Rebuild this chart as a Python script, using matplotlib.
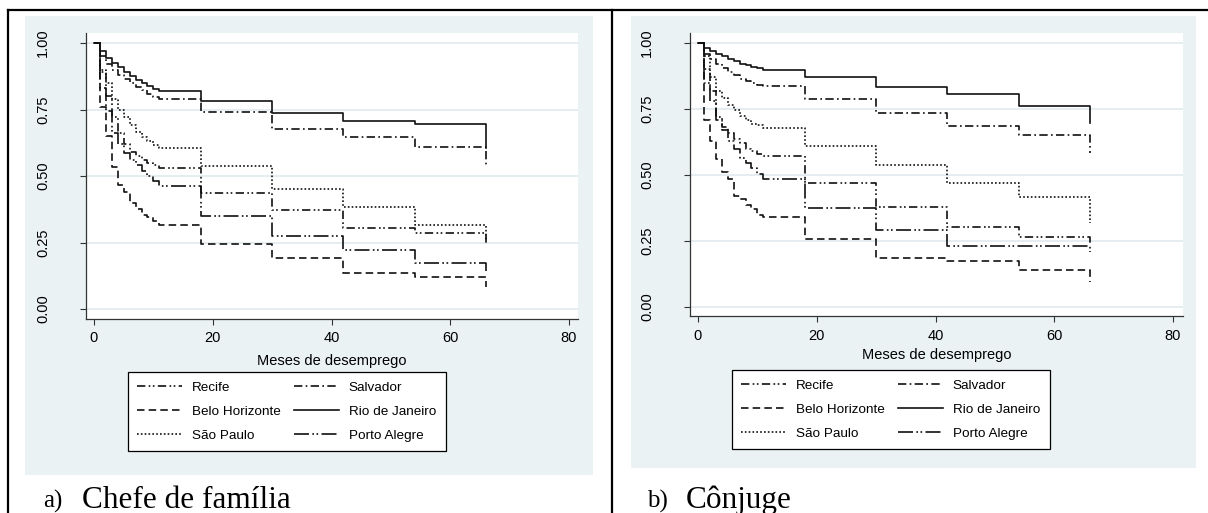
import matplotlib
matplotlib.use("Agg")
import matplotlib.pyplot as plt
from matplotlib.patches import Rectangle
from matplotlib.lines import Line2D

W, H = 1208, 513

# months (steps are monthly in the first year, then yearly)
meses = [0, 1, 2, 3, 4, 5, 6, 7, 8, 9, 10, 11, 18, 30, 42, 54, 66]

# a) Chefe de família
recife_a = [1.0, 0.89, 0.80, 0.72, 0.66, 0.62, 0.59, 0.575, 0.56, 0.55, 0.54, 0.53, 0.437, 0.372, 0.303, 0.285, 0.235]
salvador_a = [1.0, 0.95, 0.92, 0.90, 0.88, 0.865, 0.85, 0.835, 0.822, 0.808, 0.797, 0.789, 0.739, 0.677, 0.645, 0.61, 0.535]
bh_a = [1.0, 0.76, 0.65, 0.535, 0.465, 0.44, 0.40, 0.375, 0.355, 0.345, 0.33, 0.317, 0.244, 0.193, 0.137, 0.121, 0.083]
rio_a = [1.0, 0.97, 0.945, 0.925, 0.91, 0.89, 0.875, 0.86, 0.85, 0.838, 0.828, 0.818, 0.783, 0.737, 0.708, 0.695, 0.605]
sp_a = [1.0, 0.90, 0.85, 0.79, 0.75, 0.72, 0.69, 0.665, 0.645, 0.63, 0.615, 0.605, 0.538, 0.451, 0.382, 0.316, 0.255]
poa_a = [1.0, 0.83, 0.745, 0.66, 0.62, 0.585, 0.56, 0.54, 0.52, 0.50, 0.48, 0.464, 0.35, 0.276, 0.222, 0.172, 0.14]

# b) Cônjuge
recife_b = [1.0, 0.90, 0.82, 0.72, 0.68, 0.66, 0.635, 0.62, 0.60, 0.59, 0.58, 0.571, 0.471, 0.378, 0.304, 0.265, 0.235]
salvador_b = [1.0, 0.96, 0.94, 0.92, 0.905, 0.89, 0.88, 0.865, 0.857, 0.848, 0.842, 0.836, 0.788, 0.734, 0.687, 0.652, 0.583]
bh_b = [1.0, 0.71, 0.63, 0.56, 0.51, 0.485, 0.42, 0.41, 0.385, 0.37, 0.35, 0.34, 0.258, 0.187, 0.175, 0.14, 0.096]
rio_b = [1.0, 0.98, 0.97, 0.96, 0.95, 0.94, 0.93, 0.92, 0.915, 0.91, 0.905, 0.899, 0.870, 0.835, 0.806, 0.761, 0.697]
sp_b = [1.0, 0.95, 0.87, 0.82, 0.79, 0.765, 0.745, 0.725, 0.71, 0.695, 0.688, 0.678, 0.608, 0.538, 0.471, 0.418, 0.318]
poa_b = [1.0, 0.85, 0.78, 0.71, 0.67, 0.63, 0.60, 0.565, 0.545, 0.525, 0.505, 0.486, 0.374, 0.292, 0.231, 0.231, 0.21]

cidades = ["Recife", "Belo Horizonte", "São Paulo", "Salvador", "Rio de Janeiro", "Porto Alegre"]
estilos = {
    "Recife": (0, (5, 2, 1, 1.5, 1, 2)),
    "Belo Horizonte": (0, (4.5, 2.5)),
    "São Paulo": (0, (1, 1.3)),
    "Salvador": (0, (5, 2, 1, 2)),
    "Rio de Janeiro": "-",
    "Porto Alegre": (0, (9, 2, 1, 1.5, 1, 2)),
}
dados_a = {"Recife": recife_a, "Belo Horizonte": bh_a, "São Paulo": sp_a,
           "Salvador": salvador_a, "Rio de Janeiro": rio_a, "Porto Alegre": poa_a}
dados_b = {"Recife": recife_b, "Belo Horizonte": bh_b, "São Paulo": sp_b,
           "Salvador": salvador_b, "Rio de Janeiro": rio_b, "Porto Alegre": poa_b}

BG = "#eaf2f3"
GRID = "#e3ecef"
SANS = "Liberation Sans"
SERIF = "Liberation Serif"

fig = plt.figure(figsize=(W / 100, H / 100), dpi=100)


def fx(px):
    return px / W


def fy(py):
    return 1 - py / H


def panel(dados, bg_box, ax_box, ytick_px, leg_xy, letra, titulo, cap_x, lab_pad):
    # grey background of the Stata graph
    x0, y0, x1, y1 = bg_box
    fig.patches.append(Rectangle((fx(x0), fy(y1)), fx(x1 - x0), (y1 - y0) / H,
                                 transform=fig.transFigure, facecolor=BG,
                                 edgecolor="none", zorder=-10))
    l, t, r, b = ax_box
    ax = fig.add_axes([fx(l), fy(b), fx(r - l), (b - t) / H])
    ax.set_zorder(2)
    ax.set_facecolor("white")
    y_one, y_zero = ytick_px
    unit = y_zero - y_one
    ax.set_ylim(-(b - y_zero) / unit, 1 + (y_one - t) / unit)
    ax.set_xlim(-8 / 5.9375, (r - l - 8) / 5.9375)
    handles = []
    for c in cidades:
        ln, = ax.step(meses, dados[c], where="post", color="#111111",
                      linestyle=estilos[c], linewidth=1.2, label=c)
        handles.append(ln)
    ax.set_yticks([0, 0.25, 0.5, 0.75, 1.0])
    ax.set_yticklabels(["0.00", "0.25", "0.50", "0.75", "1.00"],
                       rotation=90, va="center", fontfamily=SANS, fontsize=10.5)
    ax.set_xticks([0, 20, 40, 60, 80])
    ax.set_xticklabels(["0", "20", "40", "60", "80"], fontfamily=SANS, fontsize=10.5)
    ax.grid(axis="y", color=GRID, linewidth=1.3)
    ax.set_axisbelow(True)
    for s in ["top", "right"]:
        ax.spines[s].set_visible(False)
    for s in ["left", "bottom"]:
        ax.spines[s].set_color("#333333")
        ax.spines[s].set_linewidth(0.9)
    ax.tick_params(axis="y", direction="out", length=4, width=0.8, pad=22, color="#333333")
    ax.tick_params(axis="x", direction="out", length=4, width=0.8, pad=5, color="#333333")
    ax.set_xlabel("Meses de desemprego", fontfamily=SANS, fontsize=10.5, labelpad=lab_pad)
    leg = fig.legend(handles=handles, ncol=2, loc="upper left",
                     bbox_to_anchor=(fx(leg_xy[0]), fy(leg_xy[1])),
                     bbox_transform=fig.transFigure, frameon=True, fancybox=False,
                     edgecolor="black", framealpha=1, borderaxespad=0,
                     prop={"family": SANS, "size": 9.7}, handlelength=3.3,
                     handletextpad=0.75, columnspacing=1.0, labelspacing=0.85,
                     borderpad=0.7)
    leg.get_frame().set_linewidth(0.9)
    leg.set_zorder(3)
    fig.text(fx(cap_x), fy(508), letra, fontfamily=SERIF, fontsize=18, va="baseline")
    fig.text(fx(cap_x + 39), fy(508), titulo, fontfamily=SERIF, fontsize=22.5, va="baseline")
    return ax


panel(dados_a, (25, 16, 593, 475), (86, 33, 578, 319), (43, 309), (128, 372),
      "a)", "Chefe de família", 43, 6)
panel(dados_b, (631, 16, 1196, 468), (690, 33, 1183, 316), (43, 307), (732, 370),
      "b)", "Cônjuge", 647, 4)

# table frame around the two panels
for xs, ys in [((8, 1208), (10, 10)), ((8, 8), (10, 513)), ((612, 612), (10, 513))]:
    fig.add_artist(Line2D([fx(xs[0]), fx(xs[1])], [fy(ys[0]), fy(ys[1])],
                          transform=fig.transFigure, color="black", linewidth=1.6))

fig.savefig("out.png", dpi=100)
